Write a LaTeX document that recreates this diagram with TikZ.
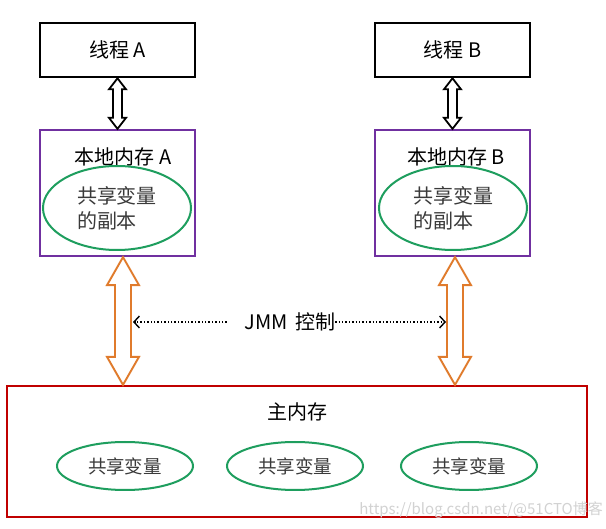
\documentclass[tikz,border=0pt]{standalone}
\usepackage{fontspec}
\setmainfont{Noto Sans CJK SC}
\usetikzlibrary{shapes.geometric,arrows.meta,calc}
\definecolor{cpurple}{HTML}{7030A0}
\definecolor{cgreen}{HTML}{1E9E5E}
\definecolor{corange}{HTML}{E07B2C}
\definecolor{cred}{HTML}{C00000}
\definecolor{ctext}{HTML}{3A3A3A}
\newcommand\dblarr[6]{%
  \draw[#1] let \p1=(#2), \p2=(#3) in
    (\x1,\y1) -- ({\x1+#4},{\y1-#6}) -- ({\x1+#5},{\y1-#6}) -- ({\x1+#5},{\y2+#6})
    -- ({\x1+#4},{\y2+#6}) -- (\x1,\y2) -- ({\x1-#4},{\y2+#6}) -- ({\x1-#5},{\y2+#6})
    -- ({\x1-#5},{\y1-#6}) -- ({\x1-#4},{\y1-#6}) -- cycle;}
\tikzset{
  thread/.style={draw=black, line width=2.6pt, minimum width=155pt, minimum height=54pt, inner sep=0pt, font=\fontsize{20}{24}\selectfont},
  localbox/.style={draw=cpurple, line width=2.3pt, minimum width=155pt, minimum height=126pt, inner sep=0pt},
  mainbox/.style={draw=cred, line width=2.3pt, minimum width=580pt, minimum height=131pt, inner sep=0pt},
  copyell/.style={draw=cgreen, line width=2pt, ellipse, minimum width=148pt, minimum height=84pt, inner sep=0pt, align=left, text=ctext, font=\fontsize{20}{25}\selectfont},
  varell/.style={draw=cgreen, line width=2pt, ellipse, minimum width=136pt, minimum height=48pt, inner sep=0pt, text=ctext, font=\fontsize{18.5}{22}\selectfont},
  title/.style={inner sep=0pt, font=\fontsize{20}{24}\selectfont},
  blackarr/.style={draw=black, fill=white, line width=1.8pt, line join=miter},
  orangearr/.style={draw=corange, fill=white, line width=1.9pt, line join=miter},
  dotarr/.style={dotted, line width=1.4pt, -{Straight Barb[length=5.5pt,width=12pt,line width=1.4pt]}},
}
\begin{document}
\begin{tikzpicture}[x=1pt,y=-1pt]
\useasboundingbox[fill=white] (0,0) rectangle (606,529);
% threads
\node[thread] (ta) at (117.5,50) {线程 A};
\node[thread] (tb) at (452.5,50) {线程 B};
% local memories
\node[localbox] (la) at (117.5,193) {};
\node[localbox] (lb) at (452.5,193) {};
\node[title] (lat) at (123,157) {本地内存 A};
\node[title] (lbt) at (456,157) {本地内存 B};
\node[copyell] (ca) at (117,208) {共享变量\\的副本};
\node[copyell] (cb) at (453,208) {共享变量\\的副本};
% main memory
\node[mainbox] (mm) at (297,451.5) {};
\node[title] (mmt) at (297,412) {主内存};
\node[varell] (v1) at (125,466) {共享变量};
\node[varell] (v2) at (295,466) {共享变量};
\node[varell] (v3) at (469,466) {共享变量};
% thread <-> local arrows
\dblarr{blackarr}{ta.south}{la.north}{8.5pt}{4.5pt}{11pt}
\dblarr{blackarr}{tb.south}{lb.north}{8.5pt}{4.5pt}{11pt}
% local <-> main arrows
\coordinate (oa1) at ($(la.south)+(5.5,0)$);
\coordinate (oa2) at ($(la.south |- mm.north)+(5.5,0)$);
\coordinate (ob1) at ($(lb.south)+(2.5,0)$);
\coordinate (ob2) at ($(lb.south |- mm.north)+(2.5,0)$);
\dblarr{orangearr}{oa1}{oa2}{16pt}{8pt}{28pt}
\dblarr{orangearr}{ob1}{ob2}{16pt}{8pt}{28pt}
% JMM control
\node[title] (jmm) at (290,322) {JMM\hspace{0.35em}控制};
\coordinate (cl) at (133,322);
\coordinate (cr) at (446,322);
\draw[dotarr] (jmm.west) ++(-18,0) -- (cl);
\draw[dotarr] (jmm.east) -- (cr);
% watermark
\node[anchor=east, inner sep=0pt, text=gray!35, font=\fontsize{15}{18}\selectfont] (wm) at (603,510) {https://blog.csdn.net/@51CTO博客};
\end{tikzpicture}
\end{document}
